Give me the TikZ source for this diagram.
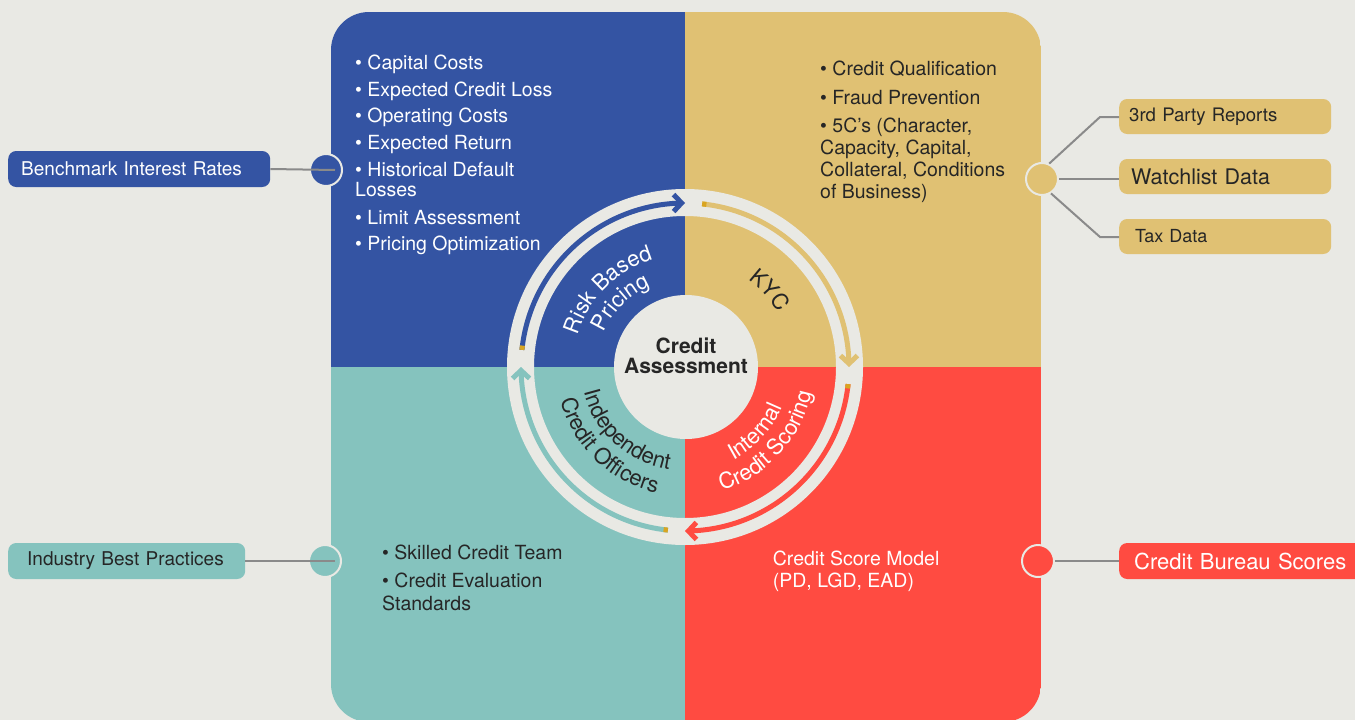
\documentclass[tikz,border=0pt]{standalone}
\usepackage{fontspec}
\setmainfont{TeX Gyre Heros}
\usetikzlibrary{arrows.meta,bending,calc,decorations.text}
\definecolor{bgc}{HTML}{E9E9E4}
\definecolor{blueq}{HTML}{3454A3}
\definecolor{goldq}{HTML}{E0C173}
\definecolor{redq}{HTML}{FF4B41}
\definecolor{tealq}{HTML}{85C3BE}
\definecolor{darkt}{HTML}{262626}
\definecolor{connc}{HTML}{8A8A8A}
\definecolor{capc}{HTML}{D9A521}
\newcommand\labfont{\fontsize{22}{22}\selectfont}
\tikzset{
  qt/.style={anchor=base west, inner sep=0pt, font=\fontsize{19.5}{20}\selectfont},
  sidebox/.style={rectangle, rounded corners=8pt, minimum height=36pt, inner ysep=0pt, anchor=west, align=left},
  sidedot/.style={circle, draw=bgc, line width=2pt, minimum size=32pt, inner sep=0pt},
  conn/.style={draw=connc, line width=2pt},
  ringarc/.style={line width=5pt, -{Straight Barb[length=8pt,width=17pt]}},
  capline/.style={capc, line width=5pt}
}
\begin{document}
\begin{tikzpicture}[x=1pt,y=1pt]
\useasboundingbox (0,0) rectangle (1355,-720);
\fill[bgc] (0,0) rectangle (1355,-720);
% quadrants
\begin{scope}
\clip[rounded corners=38pt] (331,-12) rectangle (1041,-722);
\fill[blueq] (331,-12) rectangle (685,-367);
\fill[goldq] (685,-12) rectangle (1041,-367);
\fill[tealq] (331,-367) rectangle (685,-722);
\fill[redq] (685,-367) rectangle (1041,-722);
\end{scope}
\coordinate (c) at (685,-367);
% ring
\draw[bgc, line width=27pt] (c) circle[radius=164.5];
\node[circle, fill=bgc, minimum size=144pt, inner sep=0pt] (ca) at (686,-367) {};
\node[inner sep=0pt, align=center, text=darkt, font=\bfseries\fontsize{21}{20}\selectfont] (catext) at (686,-355.5) {Credit\\Assessment};
% ring arrows
\draw[ringarc, blueq] ($(c)+(174:164)$) arc[start angle=174, end angle=90, radius=164];
\draw[capline] ($(c)+(174:164)$) arc[start angle=174, end angle=172.5, radius=164];
\draw[ringarc, goldq] ($(c)+(84:164)$) arc[start angle=84, end angle=0, radius=164];
\draw[capline] ($(c)+(84:164)$) arc[start angle=84, end angle=82.5, radius=164];
\draw[ringarc, redq] ($(c)+(-6:164)$) arc[start angle=-6, end angle=-90, radius=164];
\draw[capline] ($(c)+(-6:164)$) arc[start angle=-6, end angle=-7.5, radius=164];
\draw[ringarc, tealq] ($(c)+(-96:164)$) arc[start angle=-96, end angle=-180, radius=164];
\draw[capline] ($(c)+(-96:164)$) arc[start angle=-96, end angle=-97.5, radius=164];
% curved labels
\path[decorate, decoration={text along path, text align=center, text={|\labfont\color{white}|Risk Based}}] ($(c)+(175:112)$) arc[start angle=175, end angle=95, radius=112];
\path[decorate, decoration={text along path, text align=center, text={|\labfont\color{white}|Pricing}}] ($(c)+(175:88)$) arc[start angle=175, end angle=95, radius=88];
\path[decorate, decoration={text along path, text align=center, text={|\labfont\color{darkt}|KYC}}] ($(c)+(82:108)$) arc[start angle=82, end angle=2, radius=108];
\path[decorate, decoration={text along path, text align=center, text={|\labfont\color{white}|Internal}}] ($(c)+(-85:105)$) arc[start angle=-85, end angle=0, radius=105];
\path[decorate, decoration={text along path, text align=center, text={|\labfont\color{white}|Credit Scoring}}] ($(c)+(-85:129)$) arc[start angle=-85, end angle=0, radius=129];
\path[decorate, decoration={text along path, text align=center, text={|\labfont\color{darkt}|Independent}}] ($(c)+(-175:104)$) arc[start angle=-175, end angle=-90, radius=104];
\path[decorate, decoration={text along path, text align=center, text={|\labfont\color{darkt}|Credit Officers}}] ($(c)+(-177:129)$) arc[start angle=-177, end angle=-91, radius=129];
% top-left text
\begin{scope}[every node/.style={qt, text=white}]
\node (tl1) at (355,-69.3) {• Capital Costs};
\node (tl2) at (355,-96) {• Expected Credit Loss};
\node (tl3) at (355,-122.7) {• Operating Costs};
\node (tl4) at (355,-149.3) {• Expected Return};
\node (tl5) at (355,-176) {• Historical Default};
\node (tl6) at (355,-196.7) {Losses};
\node (tl7) at (355,-224) {• Limit Assessment};
\node (tl8) at (355,-250.7) {• Pricing Optimization};
\end{scope}
% top-right text
\begin{scope}[every node/.style={qt, text=darkt}]
\node (tr1) at (820,-75.7) {• Credit Qualification};
\node (tr2) at (820,-104) {• Fraud Prevention};
\node (tr3) at (820,-132.3) {• 5C’s (Character,};
\node (tr4) at (820,-154.7) {Capacity, Capital,};
\node (tr5) at (820,-176.7) {Collateral, Conditions};
\node (tr6) at (820,-198.3) {of Business)};
\end{scope}
% bottom-left text
\begin{scope}[every node/.style={qt, text=darkt}]
\node (bl1) at (382,-559.3) {• Skilled Credit Team};
\node (bl2) at (382,-587.3) {• Credit Evaluation};
\node (bl3) at (382,-610) {Standards};
\end{scope}
% bottom-right text
\begin{scope}[every node/.style={qt, text=white}]
\node (br1) at (772.7,-565.7) {Credit Score Model};
\node (br2) at (772.7,-587.3) {(PD, LGD, EAD)};
\end{scope}
% left top: benchmark
\node[sidedot, fill=blueq] (bc) at (326,-170) {};
\node[sidebox, fill=blueq, text=white, inner xsep=13pt, text width=236pt, font=\fontsize{19}{20}\selectfont] (bench) at (8,-169) {Benchmark Interest Rates};
\draw[conn] (bench.east) -- ([xshift=9pt]bc.center);
% left bottom: industry
\node[sidedot, fill=tealq] (ic) at (325,-561) {};
\node[sidebox, fill=tealq, text=darkt, inner xsep=19pt, text width=199pt, font=\fontsize{19}{20}\selectfont] (ind) at (8,-561) {Industry Best Practices};
\draw[conn] (ind.east) -- ([xshift=10pt]ic.center);
% right bottom: bureau
\node[sidebox, fill=redq, text=white, inner xsep=15pt, text width=230pt, font=\fontsize{22}{22}\selectfont] (bureau) at (1119,-561) {Credit Bureau Scores};
\node[sidedot, fill=redq] (rc) at (1038,-561) {};
\draw[conn] (rc.east) -- (bureau.west);
% right top: KYC sources
\node[sidedot, fill=goldq] (kc) at (1042,-179) {};
\node[sidebox, fill=goldq, text=darkt, minimum height=35pt, inner xsep=10pt, text width=192pt, font=\fontsize{18.6}{20}\selectfont] (third) at (1119,-116.5) {3rd Party Reports};
\node[sidebox, fill=goldq, text=darkt, minimum height=35pt, inner xsep=12pt, text width=188pt, font=\fontsize{21.5}{22}\selectfont] (watch) at (1119,-176.5) {Watchlist Data};
\node[sidebox, fill=goldq, text=darkt, minimum height=35pt, inner xsep=16pt, text width=180pt, font=\fontsize{18}{20}\selectfont] (tax) at (1119,-236.5) {Tax Data};
\coordinate (k1) at (1100,-117);
\coordinate (k2) at (1100,-237);
\draw[conn] (kc.65) -- (k1) -- (k1 -| third.west);
\draw[conn] (kc.east) -- (kc.east -| watch.west);
\draw[conn] (kc.-58) -- (k2) -- (k2 -| tax.west);
\end{tikzpicture}
\end{document}
